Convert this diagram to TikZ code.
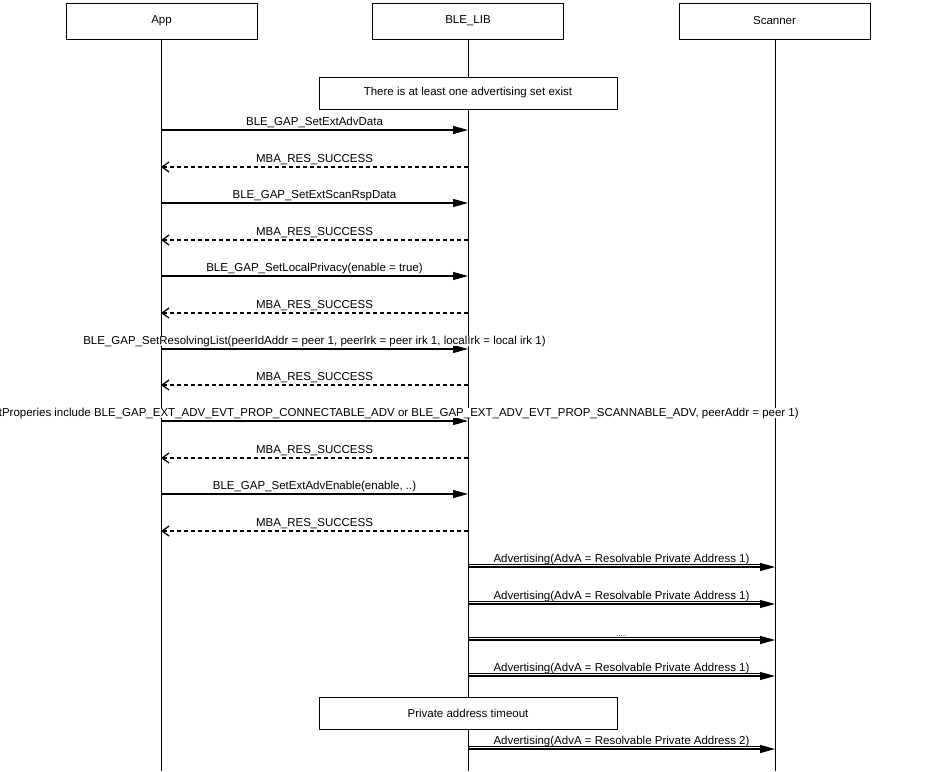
\documentclass[tikz,border=0pt]{standalone}
\usepackage{fontspec}
\setmainfont{Liberation Sans}
\usetikzlibrary{arrows.meta}
\begin{document}
\begin{tikzpicture}[x=1pt,y=-1pt,
  font=\fontsize{11.5}{13}\selectfont,
  head/.style={draw, line width=0.9pt, minimum width=191pt, minimum height=36pt, inner sep=0pt},
  note/.style={draw, fill=white, line width=0.9pt, minimum width=298pt, minimum height=32pt, inner sep=0pt},
  life/.style={line width=1pt},
  msg/.style={line width=1.2pt, -{Triangle[length=15pt,width=8pt]}},
  ret/.style={line width=1.1pt, dash pattern=on 4pt off 3pt, -{Straight Barb[length=7pt,width=10pt,line width=1.3pt]}},
  thin/.style={line width=0.8pt},
  lbl/.style={inner sep=0pt, anchor=base, fill=white},
  advlbl/.style={inner sep=0pt, anchor=base}]
\useasboundingbox (0,0) rectangle (936,771);
\node[head] (app) at (161.5,21) {App};
\node[head] (lib) at (468,21) {BLE\_LIB};
\node[head] (scn) at (774.5,21) {Scanner};
\coordinate (appEnd) at (161,771);
\coordinate (libEnd) at (468,771);
\coordinate (scnEnd) at (775,771);
\draw[life] (app.south -| appEnd) -- (appEnd);
\draw[life] (lib.south -| libEnd) -- (libEnd);
\draw[life] (scn.south -| scnEnd) -- (scnEnd);
\foreach \n/\y in {1/130,2/167,3/203,4/240,5/276,6/313,7/349,8/385,9/421,10/458,11/494,12/531,13/567,14/604,15/640,16/676,17/749}{
  \coordinate (A\n) at (161,\y);
  \coordinate (B\n) at (468,\y);
  \coordinate (C\n) at (775,\y);
  \coordinate (T\n) at (468,\y-3);
  \coordinate (U\n) at (762,\y-3);
}
\node[note] (n1) at (468,93) {There is at least one advertising set exist};
\node[note] (n2) at (468,713) {Private address timeout};
% App <-> BLE_LIB
\draw[msg] (A1) -- (B1);
\node[lbl] (l1) at (314.5,125) {BLE\_GAP\_SetExtAdvData};
\draw[ret] (B2) -- (A2);
\node[lbl] (l2) at (314.5,162) {MBA\_RES\_SUCCESS};
\draw[msg] (A3) -- (B3);
\node[lbl] (l3) at (314.5,198) {BLE\_GAP\_SetExtScanRspData};
\draw[ret] (B4) -- (A4);
\node[lbl] (l4) at (314.5,235) {MBA\_RES\_SUCCESS};
\draw[msg] (A5) -- (B5);
\node[lbl] (l5) at (314.5,271) {BLE\_GAP\_SetLocalPrivacy(enable = true)};
\draw[ret] (B6) -- (A6);
\node[lbl] (l6) at (314.5,308) {MBA\_RES\_SUCCESS};
\draw[msg] (A7) -- (B7);
\node[lbl] (l7) at (314.5,344) {BLE\_GAP\_SetResolvingList(peerIdAddr = peer 1, peerIrk = peer irk 1, localIrk = local irk 1)};
\draw[ret] (B8) -- (A8);
\node[lbl] (l8) at (314.5,380) {MBA\_RES\_SUCCESS};
\draw[msg] (A9) -- (B9);
\node[lbl, anchor=base east] (l9) at (799,416) {BLE\_GAP\_SetExtAdvParam(evtProperies include BLE\_GAP\_EXT\_ADV\_EVT\_PROP\_CONNECTABLE\_ADV or BLE\_GAP\_EXT\_ADV\_EVT\_PROP\_SCANNABLE\_ADV, peerAddr = peer 1)};
\draw[ret] (B10) -- (A10);
\node[lbl] (l10) at (314.5,453) {MBA\_RES\_SUCCESS};
\draw[msg] (A11) -- (B11);
\node[lbl] (l11) at (314.5,489) {BLE\_GAP\_SetExtAdvEnable(enable, ..)};
\draw[ret] (B12) -- (A12);
\node[lbl] (l12) at (314.5,526) {MBA\_RES\_SUCCESS};
% BLE_LIB -> Scanner
\foreach \n in {13,14,15,16,17}{
  \draw[thin] (T\n) -- (U\n);
  \draw[msg] (B\n) -- (C\n);
}
\node[advlbl] (l13) at (621.5,562) {Advertising(AdvA = Resolvable Private Address 1)};
\node[advlbl] (l14) at (621.5,599) {Advertising(AdvA = Resolvable Private Address 1)};
\node[advlbl, font=\fontsize{7}{8}\selectfont] (l15) at (621.5,636) {.....};
\node[advlbl] (l16) at (621.5,671) {Advertising(AdvA = Resolvable Private Address 1)};
\node[advlbl] (l17) at (621.5,744) {Advertising(AdvA = Resolvable Private Address 2)};
\end{tikzpicture}
\end{document}
